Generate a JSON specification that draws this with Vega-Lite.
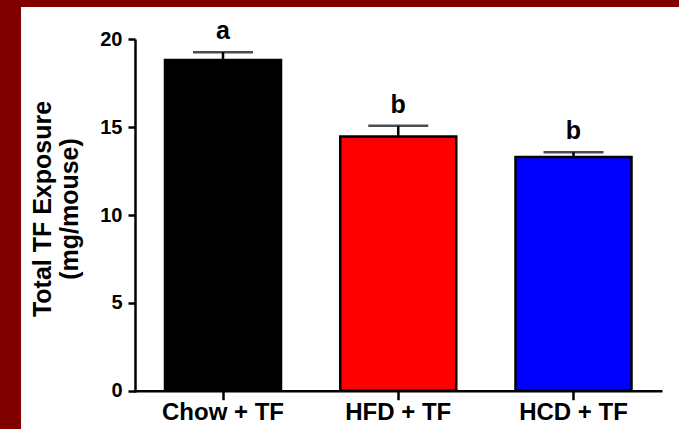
{
  "$schema": "https://vega.github.io/schema/vega-lite/v6.json",
  "width": 658,
  "height": 422,
  "autosize": {"type": "none"},
  "padding": {"left": 21, "top": 7, "right": 0, "bottom": 0},
  "background": "#800000",
  "view": {"fill": "white", "stroke": null},
  "config": {"font": "Liberation Sans"},
  "data": {
    "values": [
      {"group": "Chow + TF", "value": 18.82, "errTop": 19.27, "letter": "a"},
      {"group": "HFD + TF", "value": 14.47, "errTop": 15.08, "letter": "b"},
      {"group": "HCD + TF", "value": 13.3, "errTop": 13.57, "letter": "b"}
    ]
  },
  "encoding": {
    "x": {
      "field": "group",
      "type": "nominal",
      "sort": null,
      "scale": {"paddingInner": 0.338, "paddingOuter": 0.5463, "align": 0.752},
      "axis": {
        "title": null,
        "offset": -38.3,
        "labelAngle": 0,
        "labelFont": "Liberation Sans",
        "labelFontWeight": "bold",
        "labelFontSize": 24,
        "labelColor": "black",
        "labelPadding": 1,
        "tickSize": 9,
        "tickWidth": 2.5,
        "tickColor": "black",
        "domainColor": "black",
        "domainWidth": 2.5,
        "domainDash": [0, 113, 528, 100],
        "grid": false
      }
    },
    "y": {
      "field": "value",
      "type": "quantitative",
      "scale": {"domain": [-2.18, 21.84], "nice": false, "zero": false},
      "axis": {
        "title": ["Total TF Exposure", "(mg/mouse)"],
        "titleFont": "Liberation Sans",
        "titleFontWeight": "bold",
        "titleFontSize": 25,
        "titleLineHeight": 27,
        "titleColor": "black",
        "titleX": -80,
        "titleY": 201.5,
        "offset": -114,
        "values": [0, 5, 10, 15, 20],
        "labelFont": "Liberation Sans",
        "labelFontWeight": "bold",
        "labelFontSize": 20,
        "labelColor": "black",
        "labelPadding": 6,
        "tickSize": 7,
        "tickWidth": 2.5,
        "tickColor": "black",
        "domainColor": "black",
        "domainWidth": 2.5,
        "domainDash": [0, 37, 353, 100],
        "grid": false
      }
    }
  },
  "layer": [
    {
      "mark": {"type": "bar", "stroke": "black", "strokeWidth": 2.5},
      "encoding": {
        "y2": {"datum": 0},
        "color": {
          "field": "group",
          "type": "nominal",
          "scale": {"domain": ["Chow + TF", "HFD + TF", "HCD + TF"], "range": ["#000000", "#FF0000", "#0000FF"]},
          "legend": null
        }
      }
    },
    {
      "mark": {"type": "rule", "color": "black", "strokeWidth": 2.5},
      "encoding": {
        "y2": {"field": "errTop"}
      }
    },
    {
      "mark": {"type": "tick", "color": "black", "size": 60, "thickness": 2.5, "orient": "horizontal"},
      "encoding": {
        "y": {"field": "errTop", "type": "quantitative"}
      }
    },
    {
      "mark": {"type": "text", "font": "Liberation Sans", "fontWeight": "bold", "fontSize": 25, "color": "black", "baseline": "alphabetic", "dy": -13},
      "encoding": {
        "y": {"field": "errTop", "type": "quantitative"},
        "text": {"field": "letter"}
      }
    }
  ]
}
